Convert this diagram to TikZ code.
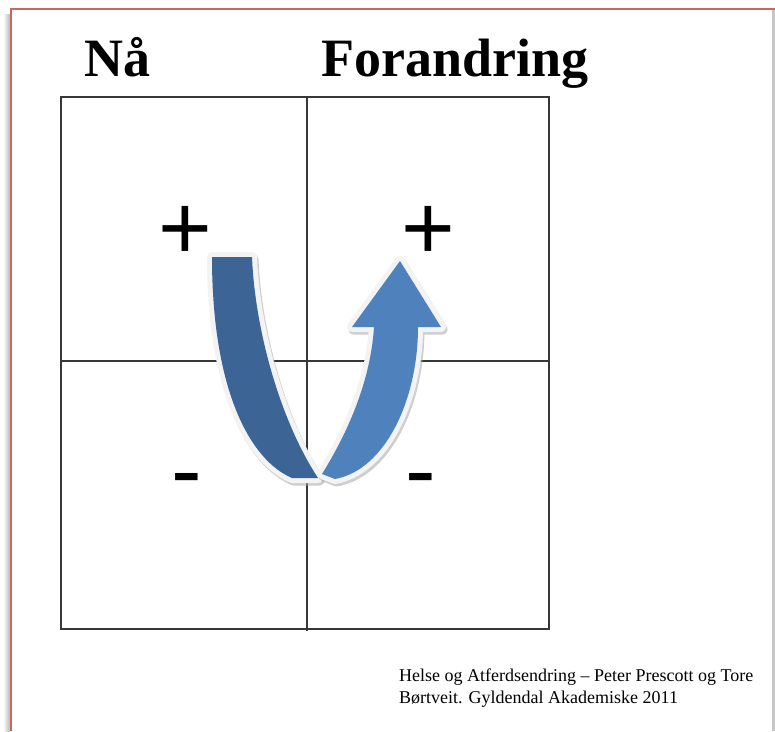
\documentclass[tikz,border=0pt]{standalone}
\usepackage{fontspec}
\setmainfont{Liberation Serif}
\newfontfamily\arialf{Liberation Sans}
\definecolor{framered}{RGB}{206,102,96}
\definecolor{darkarm}{RGB}{60,100,148}
\definecolor{lightarm}{RGB}{79,129,189}
\definecolor{rim}{RGB}{243,243,243}
\definecolor{gridc}{RGB}{55,55,55}
\newcommand\armDarkPath[1]{\path[#1] (212,257) .. controls (212,390) and (250,460) .. (292,478) -- (318,478) .. controls (280,420) and (255,330) .. (252,257) -- cycle;}
\newcommand\armLightPath[1]{\path[#1] (322,474) .. controls (340,445) and (370,390) .. (374,327) -- (352,327) -- (400,261) -- (441,327) -- (418,327) .. controls (418,400) and (385,470) .. (335,479) -- cycle;}
\begin{document}
\begin{tikzpicture}[x=1pt,y=-1pt,
  gridline/.style={draw=gridc, line width=1.3pt},
  titletext/.style={font=\fontsize{54}{60}\selectfont\bfseries, anchor=base west, inner sep=0pt},
  signtext/.style={font=\arialf\fontsize{92}{100}\selectfont, anchor=base, inner sep=0pt},
  citetext/.style={font=\fontsize{18}{22}\selectfont, anchor=base west, inner sep=0pt},
  armshadow/.style={draw=black!35, fill=black!35, line width=10pt, line join=round, opacity=0.55, xshift=1.5pt, yshift=-2.5pt},
  armrim/.style={draw=rim, fill=rim, line width=10pt, line join=round},
  ]
\useasboundingbox (0,0) rectangle (775,731);
\fill[white] (0,0) rectangle (775,731);
% page edge shadows and frame
\shade[left color=white, right color=black!28] (3,14) rectangle (10,731);
\fill[black!22] (772,10) rectangle (775,731);
\draw[framered, line width=2.4pt] (11,731) -- (11,9) -- (775,9);
% grid
\draw[gridline] (61,97) rectangle (549,629);
\draw[gridline] (307,97) -- (307,631);
\draw[gridline] (61,361) -- (549,361);
% titles
\node[titletext] (na) at (84,76) {Nå};
\node[titletext] (forandring) at (321,76) {Forandring};
% signs
\node[signtext] (plusL) at (185,259) {+};
\node[signtext] (plusR) at (428,259) {+};
\node[signtext] (minusL) at (187,501) {-};
\node[signtext] (minusR) at (421,501) {-};
% U arrow
\armDarkPath{armshadow}
\armDarkPath{armrim}
\armDarkPath{fill=darkarm}
\armLightPath{armshadow}
\armLightPath{armrim}
\armLightPath{fill=lightarm}
% citation
\node[citetext] (cite1) at (399,681) {Helse og Atferdsendring – Peter Prescott og Tore};
\node[citetext] (cite2) at (399,703) {Børtveit. Gyldendal Akademiske 2011};
\end{tikzpicture}
\end{document}
